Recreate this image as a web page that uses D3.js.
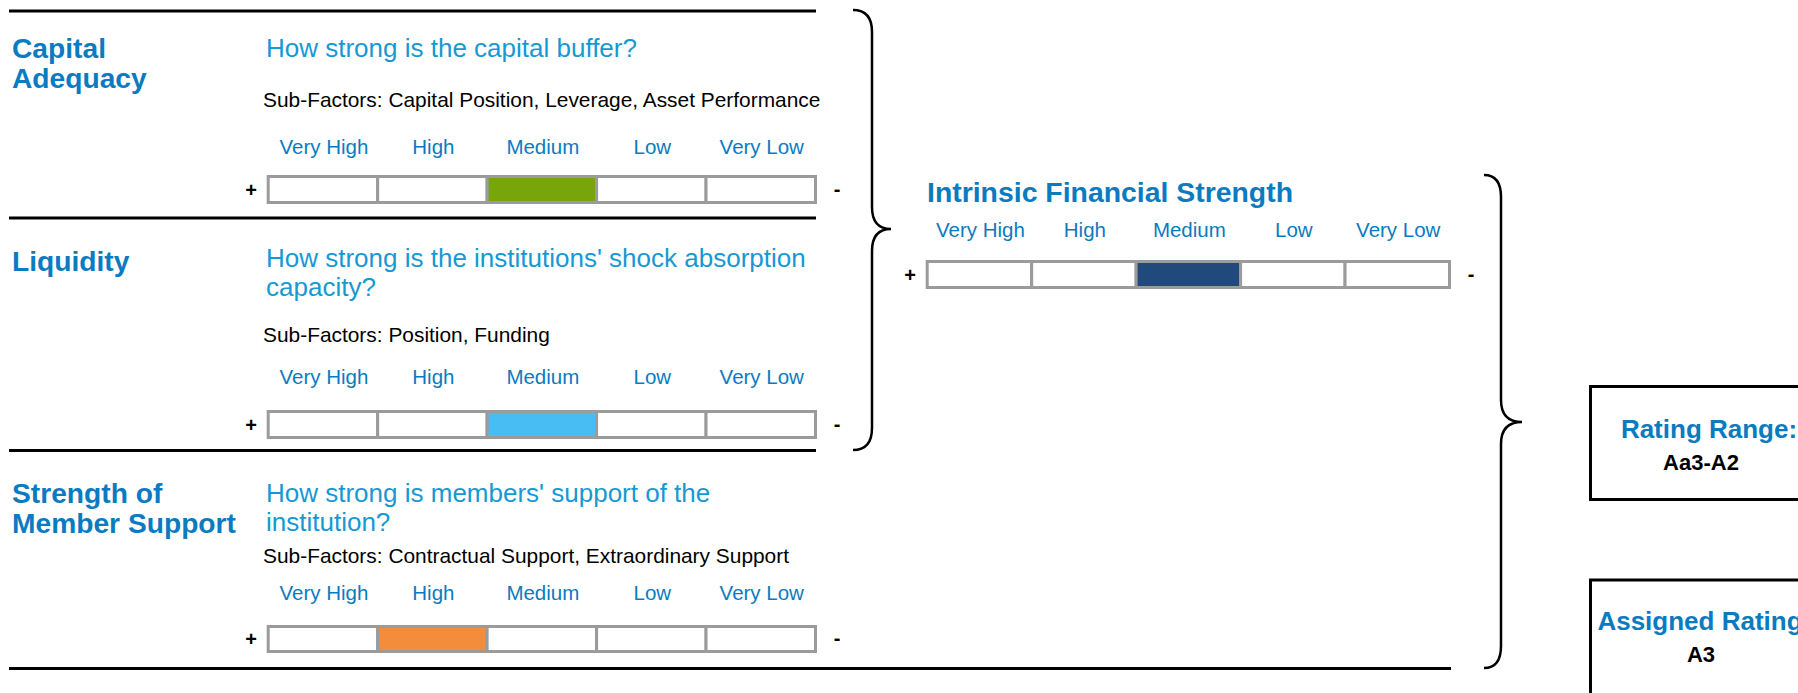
<!DOCTYPE html>
<html>
<head>
<meta charset="utf-8">
<script src="https://cdn.jsdelivr.net/npm/d3@7"></script>
<style>
  body { margin: 0; background: #fff; overflow: hidden; }
  text { font-family: "Liberation Sans", Arial, Helvetica, sans-serif; }
</style>
</head>
<body>
<div id="chart"></div>
<script>
const levels = ["Very High", "High", "Medium", "Low", "Very Low"];
const factorNames = [["Capital", "Adequacy"], ["Liquidity"], ["Strength of", "Member Support"]];
const factorQuestions = [
    ["How strong is the capital buffer?"],
    ["How strong is the institutions' shock absorption", "capacity?"],
    ["How strong is members' support of the", "institution?"]
];
const subFactors = [
    "Capital Position, Leverage, Asset Performance",
    "Position, Funding",
    "Contractual Support, Extraordinary Support"
];
const factorScores = ["Medium", "Medium", "High"];
const overallTitle = "Intrinsic Financial Strength";
const overallScore = "Medium";
const ratingRange = "Aa3-A2";
const assignedRating = "A3";

// --- styling / layout ---
const width = 1798, height = 693;
const factorColors = ["#77a50a", "#48bdf3", "#f48d3b"];
const overallColor = "#20497c";
const labelBlue = "#0a7bc1";
const questionBlue = "#1699d3";
const cellStroke = "#9b9b9b";

// per factor block: baselines of the text rows and the bar position
const blocks = [
    { name: 58, question: 57, sub: 107, levels: 154, barY: 176.5, barH: 26, lineY: 11 },
    { name: 271, question: 267, sub: 342, levels: 383.5, barY: 411.5, barH: 26, lineY: 218 },
    { name: 503, question: 501.5, sub: 563, levels: 600, barY: 626.5, barH: 25, lineY: 450.5 }
];
const lineSpacing = 30;

const svg = d3.select("#chart").append("svg")
    .attr("width", width)
    .attr("height", height)
    .attr("viewBox", `0 0 ${width} ${height}`);

const x = d3.scaleBand().domain(levels).range([268.2, 815.5]).paddingInner(0);
const xOverall = d3.scaleBand().domain(levels).range([927.2, 1449.5]).paddingInner(0);

function drawScale(g, scale, barY, barH, levelsY, score, color) {
    g.selectAll("text.level")
        .data(levels)
        .join("text")
        .attr("class", "level")
        .attr("x", d => scale(d) + scale.bandwidth() / 2 + 1)
        .attr("y", levelsY)
        .attr("text-anchor", "middle")
        .attr("font-size", 20.5)
        .attr("fill", labelBlue)
        .text(d => d);

    g.selectAll("rect.cell")
        .data(levels)
        .join("rect")
        .attr("class", "cell")
        .attr("x", d => scale(d))
        .attr("y", barY)
        .attr("width", scale.bandwidth())
        .attr("height", barH)
        .attr("fill", d => d === score ? color : "#fff")
        .attr("stroke", cellStroke)
        .attr("stroke-width", 3);

    const [x0, x1] = scale.range();
    const mid = barY + barH / 2;
    g.append("text")
        .attr("x", x0 - 17)
        .attr("y", mid + 7)
        .attr("text-anchor", "middle")
        .attr("font-size", 20)
        .attr("font-weight", "bold")
        .text("+");
    g.append("text")
        .attr("x", x1 + 21.5)
        .attr("y", mid + 6)
        .attr("text-anchor", "middle")
        .attr("font-size", 20)
        .attr("font-weight", "bold")
        .text("-");
}

// horizontal rules
const rules = [blocks[0].lineY, blocks[1].lineY, blocks[2].lineY];
svg.selectAll("line.rule")
    .data(rules)
    .join("line")
    .attr("class", "rule")
    .attr("x1", 9).attr("x2", 816)
    .attr("y1", d => d).attr("y2", d => d)
    .attr("stroke", "#000")
    .attr("stroke-width", 3);
svg.append("line")
    .attr("x1", 9).attr("x2", 1451)
    .attr("y1", 668.5).attr("y2", 668.5)
    .attr("stroke", "#000")
    .attr("stroke-width", 3);

// factor blocks
blocks.forEach((b, i) => {
    const g = svg.append("g");

    g.append("text")
        .attr("x", 12)
        .attr("y", b.name)
        .attr("font-size", 28.2)
        .attr("font-weight", "bold")
        .attr("fill", labelBlue)
        .selectAll("tspan")
        .data(factorNames[i])
        .join("tspan")
        .attr("x", 12)
        .attr("dy", (d, j) => j === 0 ? 0 : lineSpacing)
        .text(d => d);

    g.append("text")
        .attr("x", 266)
        .attr("y", b.question)
        .attr("font-size", 26)
        .attr("fill", questionBlue)
        .selectAll("tspan")
        .data(factorQuestions[i])
        .join("tspan")
        .attr("x", 266)
        .attr("dy", (d, j) => j === 0 ? 0 : 29)
        .text(d => d);

    g.append("text")
        .attr("x", 263)
        .attr("y", b.sub)
        .attr("font-size", 20.9)
        .attr("fill", "#000")
        .text("Sub-Factors: " + subFactors[i]);

    drawScale(g, x, b.barY, b.barH, b.levels, factorScores[i], factorColors[i]);
});

// overall block
const og = svg.append("g");
og.append("text")
    .attr("x", 927)
    .attr("y", 202)
    .attr("font-size", 28.4)
    .attr("font-weight", "bold")
    .attr("fill", labelBlue)
    .text(overallTitle);
drawScale(og, xOverall, 261.5, 26, 236.5, overallScore, overallColor);

// curly braces
function brace(x0, xv, xt, y0, y1, ym, r) {
    return `M${x0},${y0} Q${xv},${y0} ${xv},${y0 + r} L${xv},${ym - r} Q${xv},${ym} ${xt},${ym}` +
        ` Q${xv},${ym} ${xv},${ym + r} L${xv},${y1 - r} Q${xv},${y1} ${x0},${y1}`;
}
svg.append("path")
    .attr("d", brace(853, 872, 891, 10, 450, 229, 22))
    .attr("fill", "none")
    .attr("stroke", "#000")
    .attr("stroke-width", 2.5);
svg.append("path")
    .attr("d", brace(1484, 1501, 1522, 175, 668, 422, 22))
    .attr("fill", "none")
    .attr("stroke", "#000")
    .attr("stroke-width", 2.5);

// rating boxes
const boxes = [
    { title: "Rating Range:", value: ratingRange, y: 386.5, h: 113, titleY: 437.5, valueY: 470, titleX: 1709 },
    { title: "Assigned Rating", value: assignedRating, y: 580, h: 200, titleY: 630, valueY: 661.5, titleX: 1700 }
];
const bg = svg.selectAll("g.box")
    .data(boxes)
    .join("g")
    .attr("class", "box");
bg.append("rect")
    .attr("x", 1590.5)
    .attr("y", d => d.y)
    .attr("width", 260)
    .attr("height", d => d.h)
    .attr("fill", "#fff")
    .attr("stroke", "#000")
    .attr("stroke-width", 3);
bg.append("text")
    .attr("x", d => d.titleX)
    .attr("y", d => d.titleY)
    .attr("text-anchor", "middle")
    .attr("font-size", 26)
    .attr("font-weight", "bold")
    .attr("fill", labelBlue)
    .text(d => d.title);
bg.append("text")
    .attr("x", 1701)
    .attr("y", d => d.valueY)
    .attr("text-anchor", "middle")
    .attr("font-size", 22)
    .attr("font-weight", "bold")
    .attr("fill", "#000")
    .text(d => d.value);
</script>
</body>
</html>
